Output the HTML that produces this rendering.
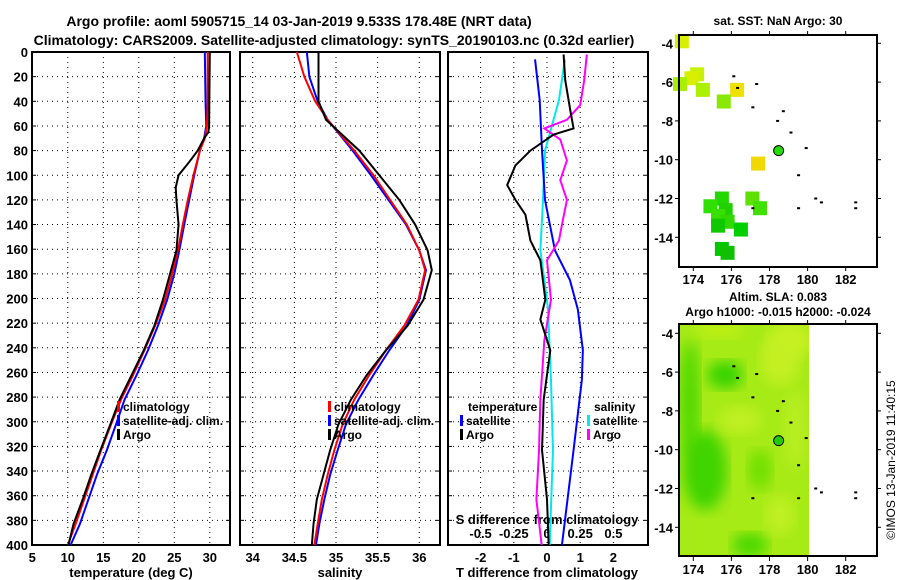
<!DOCTYPE html>
<html><head><meta charset="utf-8"><style>
body{margin:0;background:#fff;width:900px;height:580px;overflow:hidden}
svg{display:block;font-family:"Liberation Sans",sans-serif;font-weight:bold}
</style></head><body>
<svg id="c" width="900" height="580">
<defs><filter id="bl"><feGaussianBlur stdDeviation="7"/></filter>
<clipPath id="m2clip"><rect x="679" y="324" width="130" height="232"/></clipPath></defs>
<text x="299" y="26" font-size="14" text-anchor="middle">Argo profile: aoml 5905715_14 03-Jan-2019 9.533S 178.48E (NRT data)</text>
<text x="334" y="45" font-size="14" text-anchor="middle">Climatology: CARS2009. Satellite-adjusted climatology: synTS_20190103.nc (0.32d earlier)</text>
<g id="g"></g>
</svg>
<script>
// ---------- data ----------
const tDepth=[0,40,60,70,80,100,120,140,161,180,201,222,242,262,282,302,323,343,363,383,400];
const tClim=[29.7,29.7,29.6,29.3,28.6,27.7,26.9,26.2,25.5,24.7,23.7,22.3,20.8,19.2,17.5,16.1,14.7,13.5,12.3,11.1,10.0];
const tSat=[29.3,29.4,29.5,29.2,28.6,27.8,27.1,26.4,25.7,25.0,24.0,22.7,21.3,19.7,18.0,16.8,15.5,14.1,12.9,11.7,10.4];
const tArgoDepth=[0,60,65,70,80,90,100,110,120,140,161,180,201,222,242,262,282,302,323,343,363,383,400];
const tArgo=[30.0,29.9,29.8,29.2,28.3,27.0,25.6,25.2,25.3,25.6,25.3,24.4,23.4,22.2,20.7,19.0,17.3,16.0,14.6,13.3,12.1,10.8,10.1];
const sDepth=[0,20,40,55,80,100,120,140,161,177,201,222,242,262,282,302,323,343,363,383,400];
const sClim=[34.53,34.62,34.75,34.9,35.22,35.45,35.65,35.85,36.0,36.07,35.99,35.82,35.6,35.4,35.22,35.08,34.98,34.9,34.83,34.78,34.74];
const sSat=[34.65,34.68,34.78,34.9,35.2,35.42,35.63,35.84,36.0,36.08,36.0,35.85,35.64,35.45,35.27,35.12,35.02,34.93,34.86,34.8,34.76];
const sArgo=[34.79,34.79,34.79,34.88,35.28,35.52,35.76,35.95,36.1,36.15,36.05,35.86,35.6,35.37,35.18,35.03,34.93,34.85,34.77,34.73,34.71];
const dDepth=[6,39,80,120,161,185,209,242,266,323,400];
const dTSat=[-0.36,-0.22,-0.15,-0.06,0.24,0.69,0.93,1.08,1.05,0.8,0.45];
const dSSat=[0.135,0.09,-0.015,-0.03,-0.05,-0.02,0.008,0.02,0.03,0.045,0.02];
const dTArgoDepth=[2,23,47,62,67,80,92,108,120,132,153,169,201,217,242,282,323,363,400];
const dTArgo=[0.5,0.55,0.7,0.8,0.2,-0.5,-0.95,-1.2,-0.95,-0.65,-0.5,-0.2,-0.05,-0.2,0.1,-0.1,-0.15,0.0,0.05];
const dSArgoDepth=[2,23,43,55,62,71,88,104,120,136,153,169,201,234,282,323,363,400];
const dSArgo=[0.3,0.28,0.25,0.15,-0.02,0.1,0.15,0.1,0.15,0.12,0.09,0.0,0.03,-0.02,-0.05,-0.06,-0.08,-0.04];
const depthTicks=[0,20,40,60,80,100,120,140,160,180,200,220,240,260,280,300,320,340,360,380,400];
const tTicks=[5,10,15,20,25,30];
const sTicks=[34,34.5,35,35.5,36];
const dtTicks=[-2,-1,0,1,2];
const dsTicks=[-0.5,-0.25,0,0.25,0.5];
const lonTicks=[174,176,178,180,182];
const latTicks=[-4,-6,-8,-10,-12,-14];
const sstLon=[173.4,174.2,173.9,174.5,176.3,175.6,177.4,175.5,174.9,175.7,175.3,177.1,177.5,175.8,175.3,176.5,175.5,175.8,173.3];
const sstLat=[-3.9,-5.6,-5.8,-6.4,-6.4,-7.0,-10.2,-12.0,-12.4,-12.6,-12.9,-12.0,-12.5,-13.2,-13.4,-13.6,-14.6,-14.8,-6.1];
const sstCol=['#d8f000','#c8f000','#d8f000','#aaf000','#f0e000','#88e800','#f0d800','#22d800','#30e000','#20d000','#38e000','#60e000','#40e000','#30d800','#10c800','#00d000','#00c800','#10c000','#a8f000'];
const islLon=[176.1,177.3,176.3,177.1,178.7,178.4,179.1,179.9,179.5,180.4,180.7,182.5,182.5,179.5,177.1];
const islLat=[-5.7,-6.1,-6.3,-7.3,-7.5,-8.0,-8.6,-9.4,-10.8,-12.0,-12.2,-12.2,-12.5,-12.5,-12.5];

// ---------- helpers ----------
const NS='http://www.w3.org/2000/svg', G=document.getElementById('g');
function el(t,a,p){const e=document.createElementNS(NS,t);for(const k in a)e.setAttribute(k,a[k]);(p||G).appendChild(e);return e;}
const yD=d=>52+d*1.2325;
const xT=v=>32.3+(v-5)*7.1;
const xS=v=>252.7+(v-34)*83.3;
const xDT=v=>547+v*33.2;
const xDS=v=>547+v*132.8;
function grid(x0,x1,xs,ys){
  xs.forEach(x=>{const l=el('line',{x1:x,x2:x,y1:52,y2:545,stroke:'#000','stroke-dasharray':'1 4','stroke-width':1});});
  ys.forEach(y=>{const l=el('line',{x1:x0,x2:x1,y1:y,y2:y,stroke:'#000','stroke-dasharray':'1 4','stroke-width':1});
    el('line',{x1:x0,x2:x0+4,y1:y,y2:y,stroke:'#000'});el('line',{x1:x1-4,x2:x1,y1:y,y2:y,stroke:'#000'});});
  const r=el('rect',{x:x0,y:52,width:x1-x0,height:493,fill:'none',stroke:'#000','stroke-width':2});
  
}
function line(xs,ds,fx,col,name,w){
  const p=el('polyline',{points:xs.map((v,i)=>fx(v)+','+yD(ds[i])).join(' '),fill:'none',stroke:col,'stroke-width':w||2});
  
}
function txt(x,y,s,sz,anc,name,col){const t=el('text',{x:x,y:y,'font-size':sz,'text-anchor':anc||'middle',fill:col||'#000'});t.textContent=s;return t;}
function leg(x,y,col,s,name){const r=el('rect',{x:x,y:y-10,width:3,height:11,fill:col});txt(x+6,y,s,12,'start',name);}
const hy=depthTicks.map(yD);

// panel 1 temperature
grid(32,230,tTicks.map(xT),hy);
depthTicks.forEach(d=>txt(28,yD(d)+5,String(d),13,'end','depth-tick-label'));
tTicks.forEach(v=>txt(xT(v),562,String(v),13,'middle','temperature-tick-label'));
txt(131,577,'temperature (deg C)',13,'middle','x-axis-title-temperature');
line(tSat,tDepth,xT,'#0000ff','temperature-satellite-line');
line(tClim,tDepth,xT,'#ff0000','temperature-climatology-line');
line(tArgo,tArgoDepth,xT,'#000','temperature-argo-line');
leg(117,411,'#f00','climatology','legend-climatology');leg(117,425,'#00f','satellite-adj. clim.','legend-satellite');leg(117,439,'#000','Argo','legend-argo');

// panel 2 salinity
grid(240,440,sTicks.map(xS),hy);
sTicks.forEach(v=>txt(xS(v),562,String(v),13,'middle','salinity-tick-label'));
txt(340,577,'salinity',13,'middle','x-axis-title-salinity');
line(sSat,sDepth,xS,'#0000ff','salinity-satellite-line');
line(sClim,sDepth,xS,'#ff0000','salinity-climatology-line');
line(sArgo,sDepth,xS,'#000','salinity-argo-line');
leg(328,411,'#f00','climatology','legend-climatology-2');leg(328,425,'#00f','satellite-adj. clim.','legend-satellite-2');leg(328,439,'#000','Argo','legend-argo-2');

// panel 3 differences
grid(448,648,dtTicks.map(xDT),hy);
dtTicks.forEach(v=>txt(xDT(v),562,String(v),13,'middle','t-diff-tick-label'));
dsTicks.forEach(v=>txt(xDS(v),538,String(v),13,'middle','s-diff-tick-label'));
txt(547,577,'T difference from climatology',13,'middle','x-axis-title-t-diff');
txt(547,524,'S difference from climatology',13,'middle','s-diff-axis-title');
line(dSSat,dDepth,xDS,'#00e8e8','s-diff-satellite-line');
line(dTSat,dDepth,xDT,'#0000ff','t-diff-satellite-line');
line(dSArgo,dSArgoDepth,xDS,'#ff00ff','s-diff-argo-line');
line(dTArgo,dTArgoDepth,xDT,'#000','t-diff-argo-line');
txt(468,411,'temperature',12,'start','legend-title-temperature');
leg(460,425,'#00f','satellite','legend-t-satellite');leg(460,439,'#000','Argo','legend-t-argo');
txt(594,411,'salinity',12,'start','legend-title-salinity');
leg(587,425,'#0ee','satellite','legend-s-satellite');leg(587,439,'#f0f','Argo','legend-s-argo');

// maps
function mapAxes(top,bot,lat0y,name){
  const lx=v=>693.3+(v-174)*19.05, ly=v=>lat0y+(-4-v)*19.4;
  lonTicks.forEach(v=>{el('line',{x1:lx(v),x2:lx(v),y1:bot,y2:bot+4,stroke:'#000'});el('line',{x1:lx(v),x2:lx(v),y1:top,y2:top-4,stroke:'#000'});txt(lx(v),bot+17,String(v),13,'middle',name+'-lon-tick');});
  latTicks.forEach(v=>{el('line',{x1:679,x2:675,y1:ly(v),y2:ly(v),stroke:'#000'});el('line',{x1:877,x2:881,y1:ly(v),y2:ly(v),stroke:'#000'});txt(673,ly(v)+5,String(v),13,'end',name+'-lat-tick');});
  return [lx,ly];
}
function islands(lx,ly){islLon.forEach((v,i)=>{const r=el('rect',{x:lx(v)-1,y:ly(islLat[i])-1,width:3,height:2,fill:'#000'});});}
// map1
txt(778,25,'sat. SST: NaN Argo: 30',12,'middle','sst-map-title');
let [lx,ly]=mapAxes(35,267,43.3,'sst-map');
sstLon.forEach((v,i)=>{const r=el('rect',{x:lx(v)-7,y:ly(sstLat[i])-7,width:14,height:14,fill:sstCol[i]});});
islands(lx,ly);
el('circle',{cx:lx(178.48),cy:ly(-9.533),r:5,fill:'#22dd00',stroke:'#000'});
el('rect',{x:679,y:35,width:198,height:232,fill:'none',stroke:'#000','stroke-width':2});
// map2
txt(778,301,'Altim. SLA: 0.083',12,'middle','sla-map-title');
txt(778,316,'Argo h1000: -0.015 h2000: -0.024',12,'middle','sla-map-subtitle');
[lx,ly]=mapAxes(324,557,333.3,'sla-map');
const gg=el('g',{'clip-path':'url(#m2clip)'});
el('rect',{x:679,y:324,width:130,height:232,fill:'#a6ea16'},gg);
const blobs=[[690,400,10,60,'#50d800'],[725,375,18,14,'#38d400'],[705,470,22,40,'#40d400'],[750,545,18,12,'#48d800'],[790,340,22,18,'#c8f020'],[740,420,22,14,'#c0f020'],[795,430,12,40,'#b8ee20'],[780,360,20,25,'#c4f020'],[780,515,15,20,'#c0f020'],[760,470,12,20,'#70e000'],[720,330,25,8,'#c0f018']];
blobs.forEach(b=>el('ellipse',{cx:b[0],cy:b[1],rx:b[2],ry:b[3],fill:b[4],filter:'url(#bl)'},gg));
islands(lx,ly);
el('circle',{cx:lx(178.48),cy:ly(-9.533),r:5,fill:'#22cc00',stroke:'#000'});
el('rect',{x:679,y:324,width:198,height:232,fill:'none',stroke:'#000','stroke-width':2});
const cr=txt(0,0,'©IMOS 13-Jan-2019 11:40:15',12,'middle','copyright-stamp');
cr.setAttribute('font-weight','normal');cr.setAttribute('transform','translate(895,460) rotate(-90)');
</script>
</body></html>
